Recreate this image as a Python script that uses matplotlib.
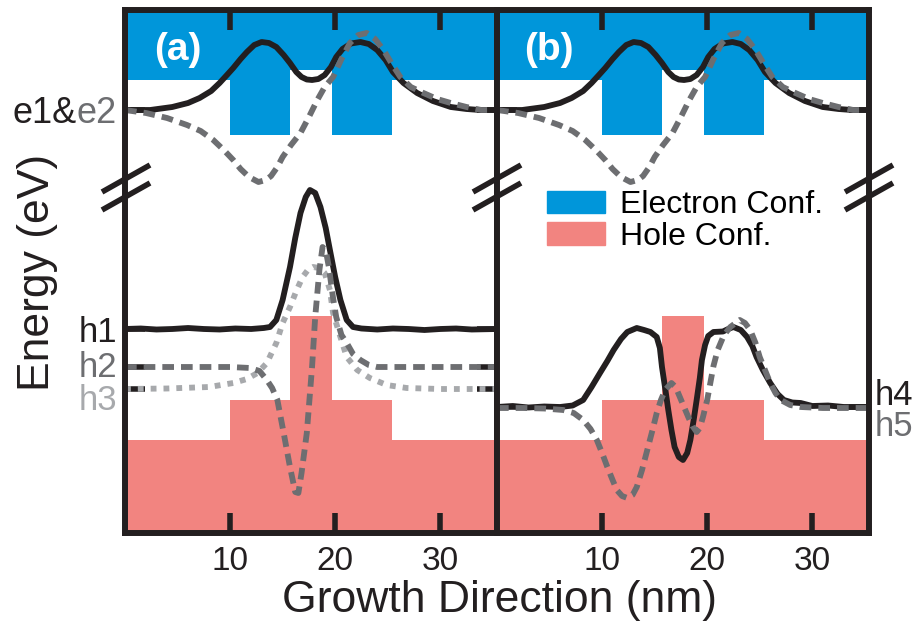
import matplotlib.pyplot as plt
from matplotlib.lines import Line2D
from matplotlib.patches import Patch

plt.rcParams['font.family'] = ['Liberation Sans', 'DejaVu Sans']

BLACK = '#231F20'
DGRAY = '#6D6E71'
LGRAY = '#A7A9AC'
BLUE = '#0096DA'
RED = '#F28480'

# layer boundaries along the growth direction (nm)
layer_x = [0, 10.0, 15.7, 19.7, 25.4, 35.4]
# band edges per layer (arb. energy units)
cb_edge = [45.3, 39.8, 46.3, 39.8, 45.3]
vb_edge = [9.3, 13.3, 21.7, 13.3, 9.3]
e_top = 52.3

# eigen-energies
lev_e = 42.3
lev_a = [20.4, 16.6, 14.4]   # h1, h2, h3
lev_h4 = 12.6

# electron wavefunctions (shifted to their level)
e1_x = [0, 2.4, 4.5, 6.0, 7.1, 8.2, 9.0, 9.7, 10.3, 11.0, 11.6, 12.3, 13.0,
        13.7, 14.4, 15.1, 15.7, 16.3, 16.8, 17.3, 17.8, 18.4, 19.0, 19.6,
        20.1, 20.7, 21.5, 22.4, 23.2, 24.0, 24.8, 25.5, 26.5, 27.8, 29.3,
        31.0, 32.5, 33.8, 35.4]
e1_y = [42.3, 42.3, 42.6, 43.0, 43.5, 44.2, 45.0, 45.8, 46.5, 47.4, 48.1,
        48.8, 49.1, 49.0, 48.6, 47.8, 47.0, 46.1, 45.6, 45.35, 45.3, 45.4,
        45.8, 46.6, 47.6, 48.4, 48.95, 49.1, 48.9, 48.3, 47.3, 46.1, 45.0,
        44.0, 43.2, 42.6, 42.4, 42.3, 42.3]
e2_x = [0, 2.0, 4.0, 5.9, 7.2, 8.4, 9.4, 10.3, 11.0, 11.8, 12.7, 13.4, 13.9,
        14.5, 15.0, 15.8, 16.7, 17.5, 18.3, 19.0, 19.8, 20.6, 21.4, 22.2,
        23.0, 23.8, 24.6, 25.4, 26.2, 27.2, 28.4, 29.7, 31.0, 32.5, 33.9, 35.4]
e2_y = [42.3, 42.0, 41.5, 40.8, 40.2, 39.3, 38.3, 37.3, 36.4, 35.6, 35.1,
        35.3, 35.7, 36.6, 37.6, 38.8, 40.0, 41.6, 43.3, 44.6, 45.6, 47.4,
        49.0, 49.8, 50.0, 49.4, 48.3, 46.9, 45.6, 44.6, 44.0, 43.4, 43.0,
        42.6, 42.3, 42.3]

# hole wavefunctions, panel (a)
h1_x = [0, 1.5, 3, 4.5, 6, 7.5, 9, 10.5, 12, 13.2, 13.8, 14.4, 15.0, 15.7,
        16.2, 16.7, 17.2, 17.6, 18.1, 18.6, 19.1, 19.5, 20.0, 20.5, 21.1,
        21.7, 22.5, 24, 25.5, 27, 28.5, 30, 31.5, 33, 35.4]
h1_y = [20.4, 20.45, 20.35, 20.4, 20.5, 20.4, 20.35, 20.45, 20.4, 20.5,
        20.6, 21.3, 23.3, 26.6, 29.5, 32.0, 33.6, 34.3, 34.0, 32.6, 30.5,
        28.3, 25.6, 23.3, 21.3, 20.6, 20.45, 20.35, 20.45, 20.4, 20.3, 20.4,
        20.45, 20.35, 20.4]
h2_x = [0, 5, 10, 11.9, 12.8, 13.5, 14.0, 14.5, 15.1, 15.7, 16.2, 16.5,
        16.8, 17.3, 17.8, 18.1, 18.5, 18.8, 19.1, 19.4, 19.8, 20.1, 20.6,
        21.1, 21.7, 22.4, 23.2, 24.0, 35.4]
h2_y = [16.6, 16.6, 16.6, 16.5, 16.2, 15.3, 14.5, 13.3, 10.0, 6.6, 4.1, 4.0,
        6.0, 10.0, 16.6, 21.6, 26.3, 28.6, 28.3, 26.6, 23.5, 21.6, 19.8, 19.0,
        17.9, 17.3, 16.8, 16.6, 16.6]
h3_x = [0, 4, 8, 10.3, 11.6, 12.6, 13.5, 14.4, 15.0, 15.7, 16.3, 16.9, 17.4,
        17.9, 18.5, 19.0, 19.5, 19.8, 20.5, 21.1, 22.1, 23.3, 24.9, 26.8, 30,
        35.4]
h3_y = [14.4, 14.45, 14.6, 15.0, 15.4, 16.0, 17.0, 19.0, 21.0, 22.6, 24.2,
        25.6, 26.3, 26.6, 26.5, 26.0, 24.3, 22.0, 19.6, 17.6, 16.3, 15.5,
        14.8, 14.5, 14.4, 14.4]

# hole wavefunctions, panel (b)
h4_x = [0, 1.5, 3, 4.5, 6, 7.2, 8.2, 9.0, 9.8, 10.5, 11.1, 11.8, 12.4, 13.3,
        14.0, 14.6, 15.2, 15.5, 15.7, 16.0, 16.3, 16.6, 16.9, 17.3, 17.7,
        18.1, 18.4, 18.7, 19.0, 19.3, 19.5, 19.8, 20.1, 20.6, 21.5, 22.0,
        22.5, 23.2, 23.8, 24.3, 24.7, 25.3, 26.0, 26.7, 27.3, 28.1, 28.9, 30,
        31.5, 33, 35.4]
h4_y = [12.6, 12.7, 12.55, 12.65, 12.6, 12.75, 13.3, 14.6, 16.0, 17.2, 18.3,
        19.4, 20.1, 20.5, 20.3, 20.1, 19.6, 18.5, 16.6, 14.5, 12.3, 10.3, 8.6,
        7.6, 7.3, 8.0, 9.3, 11.2, 13.3, 15.5, 17.3, 18.8, 19.7, 20.1, 20.15,
        20.4, 20.6, 20.3, 19.6, 18.7, 17.6, 16.3, 15.0, 13.9, 13.3, 13.05,
        13.0, 12.7, 12.75, 12.6, 12.6]
h5_x = [0, 2.5, 4.5, 6.3, 7.3, 8.2, 8.9, 9.5, 10.0, 10.5, 11.0, 11.4, 11.9,
        12.4, 12.9, 13.3, 13.8, 14.3, 14.8, 15.2, 15.6, 16.0, 16.6, 17.0,
        17.4, 17.8, 18.2, 18.6, 19.0, 19.3, 19.6, 20.0, 20.3, 20.6, 21.0,
        21.6, 22.2, 23.1, 23.6, 24.1, 24.6, 25.0, 25.5, 26.0, 26.5, 27.0,
        27.9, 28.9, 31, 35.4]
h5_y = [12.5, 12.5, 12.45, 12.3, 12.0, 11.3, 10.4, 9.3, 8.0, 6.6, 5.3, 4.3,
        3.7, 3.5, 3.8, 4.6, 6.3, 8.3, 10.3, 12.0, 13.3, 14.3, 15.0, 14.6,
        13.6, 12.6, 11.6, 10.7, 10.1, 10.5, 11.6, 13.3, 15.0, 16.7, 18.3,
        19.8, 20.6, 21.3, 21.0, 20.3, 19.0, 17.6, 16.3, 15.0, 14.0, 13.3,
        12.8, 12.6, 12.5, 12.5]

x_ticks = [10, 20, 30]

W, H = 919, 625
fig = plt.figure(figsize=(W / 100, H / 100), dpi=100)


def px(x, y):
    return x / W, 1 - y / H


bottom = (H - 533) / H
height = 523 / H
ax_a = fig.add_axes([125 / W, bottom, 372 / W, height])
ax_b = fig.add_axes([497 / W, bottom, 372 / W, height])

DASH = (0, (2.0, 1.2))
DOT = (0, (1.0, 1.2))
LW = 4.2

for ax in (ax_a, ax_b):
    ax.fill_between(layer_x, cb_edge + cb_edge[-1:], e_top, step='post',
                    color=BLUE, lw=0)
    ax.fill_between(layer_x, 0, vb_edge + vb_edge[-1:], step='post',
                    color=RED, lw=0)
    ax.plot(e1_x, e1_y, color=BLACK, lw=LW)
    ax.plot(e2_x, e2_y, color=DGRAY, lw=LW, ls=DASH)
    ax.set_xlim(0, 35.4)
    ax.set_ylim(0, e_top)
    ax.set_xticks(x_ticks)
    ax.set_xticklabels([str(t) for t in x_ticks])
    for s in ax.spines.values():
        s.set_linewidth(4.3)
        s.set_color(BLACK)
    ax.tick_params(direction='in', length=14.4, width=4.0, color=BLACK,
                   top=True, bottom=True, left=True, right=True,
                   labelleft=False, labelsize=24, pad=9, labelcolor=BLACK)

ax_a.plot(h1_x, h1_y, color=BLACK, lw=LW)
ax_a.plot(h3_x, h3_y, color=LGRAY, lw=LW, ls=DOT)
ax_a.plot(h2_x, h2_y, color=DGRAY, lw=LW, ls=DASH)
ax_a.set_yticks([lev_e] + lev_a)

ax_b.plot(h4_x, h4_y, color=BLACK, lw=LW)
ax_b.plot(h5_x, h5_y, color=DGRAY, lw=LW, ls=DASH)
ax_b.set_yticks([lev_e, lev_h4])

# panel tags
fig.text(*px(178, 60), '(a)', color='white', fontsize=28, fontweight='bold',
         ha='center', va='baseline')
fig.text(*px(549, 60), '(b)', color='white', fontsize=28, fontweight='bold',
         ha='center', va='baseline')

# level labels
r = fig.canvas.get_renderer()
t_e2 = fig.text(*px(117, 123), 'e2', color=DGRAY, fontsize=26,
                ha='right', va='baseline')
x0 = t_e2.get_window_extent(renderer=r).x0
fig.text(x0 / W, 1 - 123 / H, 'e1&', color=BLACK, fontsize=26,
         ha='right', va='baseline')
fig.text(*px(117, 342), 'h1', color=BLACK, fontsize=25, ha='right', va='baseline')
fig.text(*px(117, 377), 'h2', color=DGRAY, fontsize=25, ha='right', va='baseline')
fig.text(*px(117, 410), 'h3', color=LGRAY, fontsize=25, ha='right', va='baseline')
fig.text(*px(875, 405), 'h4', color=BLACK, fontsize=25, ha='left', va='baseline')
fig.text(*px(875, 436), 'h5', color=DGRAY, fontsize=25, ha='left', va='baseline')

# axis titles
fig.text(*px(499, 612), 'Growth Direction (nm)', fontsize=32, color=BLACK,
         ha='center', va='baseline')
fig.text(*px(49, 272), 'Energy (eV)', fontsize=32, color=BLACK, rotation=90,
         rotation_mode='anchor', ha='center', va='baseline')

# axis break marks on each vertical border
for cx in (126, 497, 869):
    for yy in (178.5, 196.5):
        fig.add_artist(Line2D([(cx - 24) / W, (cx + 24) / W],
                              [1 - (yy + 13.5) / H, 1 - (yy - 13.5) / H],
                              color=BLACK, lw=4.0, solid_capstyle='butt'))

ax_b.legend(handles=[Patch(color=BLUE, label='Electron Conf.'),
                     Patch(color=RED, label='Hole Conf.')],
            loc='upper left', bbox_to_anchor=px(547, 190),
            bbox_transform=fig.transFigure, frameon=False, fontsize=23,
            borderpad=0, borderaxespad=0, handlelength=1.8, handleheight=0.7,
            handletextpad=0.5, labelspacing=0.05)

fig.savefig('out.png', dpi=100)
